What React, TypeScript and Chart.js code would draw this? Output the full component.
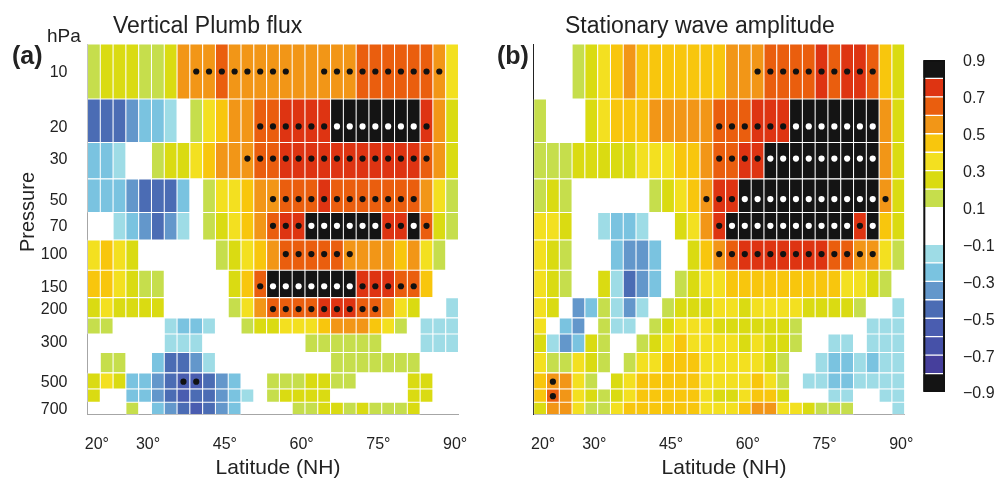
import { useEffect, useRef } from 'react';
import { Chart, registerables } from 'chart.js';

Chart.register(...registerables);

const FONT = '"Liberation Sans", Arial, Helvetica, sans-serif';
const TEXT = '#222222';

// ---- axes / categories ----
const LATITUDES = [20, 22.5, 25, 27.5, 30, 32.5, 35, 37.5, 40, 42.5, 45, 47.5, 50, 52.5, 55, 57.5, 60, 62.5, 65, 67.5, 70, 72.5, 75, 77.5, 80, 82.5, 85, 87.5, 90];
const PRESSURE_LEVELS = [10, 20, 30, 50, 70, 100, 150, 200, 250, 300, 400, 500, 600, 700];
const PRESSURE_TICKS = [10, 20, 30, 50, 70, 100, 150, 200, 300, 500, 700];
const LATITUDE_TICKS = [20, 30, 45, 60, 75, 90];
const COLORBAR_TICKS = [0.9, 0.7, 0.5, 0.3, 0.1, -0.1, -0.3, -0.5, -0.7, -0.9];

// ---- colour classes (bounds and fills) ----
const COLOR_BOUNDS = [-0.9, -0.8, -0.7, -0.6, -0.5, -0.4, -0.3, -0.2, -0.1, 0.1, 0.2, 0.3, 0.4, 0.5, 0.6, 0.7, 0.8, 0.9];
const COLOR_FILLS = ['#141414', '#463f9c', '#4651a8', '#4a5db0', '#4b6cb4', '#6397cb', '#7ac3e0', '#9edce6', '#ffffff', '#c6de4c', '#dadb12', '#f3e020', '#f8c60d', '#f29617', '#ea5e0e', '#de3412', '#141414'];

// ---- panel (a): vertical Plumb flux, one row per pressure level (10 ... 700 hPa) ----
const FLUX = [
  [0.15, 0.25, 0.25, 0.25, 0.15, 0.15, 0.25, 0.55, 0.55, 0.55, 0.65, 0.55, 0.55, 0.55, 0.55, 0.55, 0.55, 0.55, 0.55, 0.55, 0.55, 0.65, 0.65, 0.65, 0.65, 0.65, 0.65, 0.55, 0.35],
  [-0.45, -0.45, -0.45, -0.35, -0.25, -0.25, -0.15, 0, 0.15, 0.35, 0.45, 0.55, 0.55, 0.65, 0.65, 0.75, 0.75, 0.75, 0.75, 0.85, 0.85, 0.85, 0.85, 0.85, 0.85, 0.85, 0.75, 0.55, 0.25],
  [-0.25, -0.25, -0.15, 0, 0, 0.15, 0.25, 0.25, 0.35, 0.45, 0.55, 0.55, 0.55, 0.65, 0.65, 0.75, 0.75, 0.75, 0.75, 0.75, 0.75, 0.75, 0.75, 0.75, 0.75, 0.75, 0.65, 0.55, 0.25],
  [-0.25, -0.25, -0.25, -0.35, -0.45, -0.45, -0.45, -0.25, 0, 0.15, 0.35, 0.35, 0.45, 0.55, 0.55, 0.65, 0.65, 0.65, 0.75, 0.65, 0.65, 0.65, 0.65, 0.65, 0.65, 0.65, 0.55, 0.35, 0.15],
  [0, 0, -0.15, -0.25, -0.35, -0.45, -0.35, -0.15, 0, 0.15, 0.25, 0.35, 0.45, 0.55, 0.65, 0.75, 0.75, 0.85, 0.85, 0.85, 0.85, 0.85, 0.85, 0.75, 0.75, 0.85, 0.65, 0.25, 0.15],
  [0.35, 0.45, 0.35, 0.25, 0, 0, 0, 0, 0, 0, 0.15, 0.25, 0.35, 0.45, 0.55, 0.65, 0.65, 0.65, 0.65, 0.65, 0.55, 0.55, 0.55, 0.55, 0.45, 0.55, 0.35, 0.15, 0],
  [0.45, 0.45, 0.35, 0.25, 0.15, 0.15, 0, 0, 0, 0, 0, 0.25, 0.45, 0.65, 0.85, 0.85, 0.85, 0.85, 0.85, 0.85, 0.85, 0.75, 0.75, 0.75, 0.65, 0.65, 0.45, 0, 0],
  [0.25, 0.35, 0.25, 0.25, 0.25, 0.25, 0, 0, 0, 0, 0, 0.15, 0.35, 0.55, 0.65, 0.65, 0.65, 0.65, 0.75, 0.75, 0.75, 0.65, 0.65, 0.55, 0.35, 0.25, 0, 0, -0.15],
  [0.15, 0.15, 0, 0, 0, 0, -0.15, -0.25, -0.25, -0.15, 0, 0, 0.15, 0.25, 0.25, 0.35, 0.35, 0.35, 0.45, 0.55, 0.55, 0.55, 0.45, 0.35, 0.15, 0, -0.15, -0.15, -0.15],
  [0, 0, 0, 0, 0, 0, -0.15, -0.15, -0.15, 0, 0, 0, 0, 0, 0, 0, 0, 0.15, 0.15, 0.15, 0.15, 0.15, 0.15, 0, 0, 0, -0.15, -0.15, -0.15],
  [0, 0.15, 0.15, 0, 0, -0.25, -0.45, -0.45, -0.35, -0.15, 0, 0, 0, 0, 0, 0, 0, 0, 0, 0.15, 0.15, 0.15, 0.15, 0.15, 0.15, 0.15, 0, 0, 0],
  [0.25, 0.35, 0.25, -0.25, -0.25, -0.35, -0.45, -0.55, -0.55, -0.45, -0.35, -0.25, 0, 0, 0.15, 0.15, 0.15, 0.25, 0.25, 0.15, 0.15, 0, 0, 0, 0, 0.25, 0.25, 0, 0],
  [0.25, 0, 0, -0.25, -0.25, -0.35, -0.45, -0.55, -0.45, -0.45, -0.35, -0.25, -0.15, 0, 0.15, 0.25, 0.25, 0.25, 0.25, 0, 0, 0, 0, 0, 0, 0.25, 0.25, 0, 0],
  [0, 0, 0, 0.15, 0, -0.25, -0.35, -0.45, -0.55, -0.45, -0.35, -0.25, 0, 0, 0, 0, 0.15, 0.15, 0.25, 0.25, 0.15, 0.25, 0.15, 0.15, 0.15, 0.25, 0, 0, 0],
];
// significant cells (column indices) per pressure level
const FLUX_SIG = [
  [8, 9, 10, 11, 12, 13, 14, 15, 18, 19, 20, 21, 22, 23, 24, 25, 26, 27],
  [13, 14, 15, 16, 17, 18, 19, 20, 21, 22, 23, 24, 25, 26],
  [12, 13, 14, 15, 16, 17, 18, 19, 20, 21, 22, 23, 24, 25, 26],
  [14, 15, 16, 17, 18, 19, 20, 21, 22, 23, 24, 25],
  [14, 15, 16, 17, 18, 19, 20, 21, 22, 23, 24, 25, 26],
  [15, 16, 17, 18, 19, 20],
  [13, 14, 15, 16, 17, 18, 19, 20, 21, 22, 23, 24, 25],
  [14, 15, 16, 17, 18, 19, 20, 21, 22],
  [], [], [],
  [7, 8],
  [], [],
];

// ---- panel (b): stationary wave amplitude ----
const AMPLITUDE = [
  [0, 0, 0, 0.15, 0.25, 0.35, 0.45, 0.55, 0.45, 0.45, 0.45, 0.45, 0.45, 0.45, 0.45, 0.55, 0.55, 0.55, 0.65, 0.65, 0.65, 0.65, 0.75, 0.65, 0.75, 0.75, 0.65, 0.45, 0.25],
  [0.15, 0, 0, 0, 0.25, 0.35, 0.45, 0.45, 0.45, 0.55, 0.55, 0.55, 0.55, 0.55, 0.65, 0.65, 0.65, 0.75, 0.75, 0.75, 0.85, 0.85, 0.85, 0.85, 0.85, 0.85, 0.85, 0.55, 0.25],
  [0.15, 0.15, 0.15, 0.25, 0.25, 0.25, 0.25, 0.25, 0.35, 0.35, 0.35, 0.45, 0.45, 0.55, 0.65, 0.65, 0.75, 0.75, 0.85, 0.85, 0.85, 0.85, 0.85, 0.85, 0.85, 0.85, 0.85, 0.55, 0.25],
  [0.15, 0.25, 0.15, 0, 0, 0, 0, 0, 0, 0.15, 0.25, 0.35, 0.45, 0.55, 0.75, 0.75, 0.85, 0.85, 0.85, 0.85, 0.85, 0.85, 0.85, 0.85, 0.85, 0.85, 0.85, 0.55, 0.25],
  [0.35, 0.35, 0.25, 0, 0, -0.15, -0.25, -0.25, -0.15, 0, 0, 0.25, 0.35, 0.55, 0.75, 0.85, 0.85, 0.85, 0.85, 0.85, 0.85, 0.85, 0.85, 0.85, 0.85, 0.75, 0.85, 0.45, 0.25],
  [0.35, 0.25, 0.15, 0, 0, 0, -0.25, -0.35, -0.35, -0.25, 0, 0, 0.25, 0.45, 0.55, 0.65, 0.75, 0.75, 0.75, 0.75, 0.75, 0.75, 0.75, 0.65, 0.65, 0.55, 0.55, 0.35, 0.15],
  [0.35, 0.25, 0.15, 0, 0, 0.25, -0.15, -0.45, -0.35, -0.25, 0, 0.15, 0.25, 0.35, 0.35, 0.45, 0.45, 0.45, 0.45, 0.45, 0.45, 0.45, 0.45, 0.45, 0.35, 0.35, 0.25, 0.15, 0],
  [0.35, 0.25, 0, -0.35, -0.25, 0.15, -0.15, -0.35, -0.15, 0, 0.15, 0.25, 0.25, 0.25, 0.35, 0.35, 0.25, 0.35, 0.35, 0.35, 0.35, 0.25, 0.25, 0.25, 0.25, 0.15, 0, 0, -0.15],
  [0.35, 0, -0.25, -0.35, 0, 0.15, -0.15, -0.15, 0, 0.15, 0.25, 0.35, 0.35, 0.35, 0.25, 0.25, 0.25, 0.25, 0.25, 0.25, 0.15, 0, 0, 0, 0, 0, -0.15, -0.15, -0.15],
  [0.25, -0.15, -0.35, -0.25, 0.25, 0.15, 0, 0, 0.15, 0.25, 0.35, 0.45, 0.35, 0.35, 0.35, 0.35, 0.25, 0.35, 0.25, 0.25, 0.15, 0, 0, -0.15, -0.15, 0, -0.15, -0.15, -0.15],
  [0.35, 0.15, 0.15, 0.35, 0.25, 0.15, 0, 0.15, 0.35, 0.35, 0.45, 0.45, 0.45, 0.35, 0.35, 0.35, 0.35, 0.35, 0.25, 0.15, 0, 0, -0.15, -0.25, -0.25, -0.15, -0.25, -0.15, -0.15],
  [0.45, 0.55, 0.55, 0.35, 0.15, 0, 0.25, 0.35, 0.45, 0.45, 0.45, 0.45, 0.45, 0.35, 0.35, 0.35, 0.35, 0.45, 0.35, 0.15, 0, -0.15, -0.15, -0.25, -0.25, -0.15, -0.15, -0.15, -0.15],
  [0.45, 0.65, 0.55, 0.35, 0.25, 0.15, 0.25, 0.35, 0.45, 0.45, 0.45, 0.45, 0.45, 0.35, 0.25, 0.25, 0.35, 0.45, 0.45, 0.25, 0, 0, 0, -0.15, -0.15, 0, 0, -0.15, -0.15],
  [0.25, 0.55, 0.55, 0.35, 0.15, 0.15, 0.35, 0.45, 0.45, 0.45, 0.45, 0.45, 0.45, 0.35, 0.35, 0.35, 0.45, 0.55, 0.55, 0.35, 0.35, 0.25, 0.15, 0.15, 0.15, 0, 0, 0, -0.15],
];
const AMPLITUDE_SIG = [
  [17, 18, 19, 20, 21, 22, 23, 24, 25, 26],
  [14, 15, 16, 17, 18, 19, 20, 21, 22, 23, 24, 25, 26],
  [14, 15, 16, 17, 18, 19, 20, 21, 22, 23, 24, 25, 26],
  [13, 14, 15, 16, 17, 18, 19, 20, 21, 22, 23, 24, 25, 26, 27],
  [14, 15, 16, 17, 18, 19, 20, 21, 22, 23, 24, 25, 26],
  [14, 15, 16, 17, 18, 19, 20, 21, 22, 23, 24, 25, 26],
  [], [], [], [], [],
  [1],
  [1],
  [],
];

// cell edges in pressure: geometric mid-points between levels
function levelEdges(levels: number[]): number[] {
  const n = levels.length;
  const e = [levels[0] / Math.sqrt(levels[1] / levels[0])];
  for (let i = 0; i < n - 1; i++) e.push(Math.sqrt(levels[i] * levels[i + 1]));
  e.push(levels[n - 1] * Math.sqrt(levels[n - 1] / levels[n - 2]));
  return e;
}
const EDGES = levelEdges(PRESSURE_LEVELS);
const HALF_STEP = (LATITUDES[1] - LATITUDES[0]) / 2;

function colorFor(v: number): string {
  for (let i = 0; i < COLOR_FILLS.length; i++) {
    if (v >= COLOR_BOUNDS[i] && v < COLOR_BOUNDS[i + 1]) return COLOR_FILLS[i];
  }
  return v >= COLOR_BOUNDS[COLOR_BOUNDS.length - 1] ? COLOR_FILLS[COLOR_FILLS.length - 1] : COLOR_FILLS[0];
}

const W = 1000;
const H = 478;
const PLOT_TOP = 44;
const PLOT_BOTTOM = 414.5;

function makePanel(canvas: HTMLCanvasElement, grid: number[][], sig: number[][], o: { left: number; right: number; showY: boolean; yBorder: string }) {
  const cells: any[] = [];
  grid.forEach((row, i) => row.forEach((v, j) => {
    if (v !== 0) cells.push({ x: LATITUDES[j], y: [EDGES[i], EDGES[i + 1]], v });
  }));
  const dots: any[] = [];
  sig.forEach((cols, i) => cols.forEach((j) => {
    dots.push({ x: LATITUDES[j], y: PRESSURE_LEVELS[i], light: grid[i][j] >= 0.8 });
  }));
  return new Chart(canvas, {
    type: 'bar',
    data: {
      datasets: [
        {
          type: 'scatter',
          data: dots,
          order: 0,
          pointRadius: 3.1,
          pointHoverRadius: 3.1,
          pointBorderWidth: 0,
          pointBackgroundColor: (c: any) => (c.raw && c.raw.light ? '#ffffff' : '#111111'),
        } as any,
        {
          type: 'bar',
          data: cells,
          order: 1,
          backgroundColor: (c: any) => colorFor(c.raw ? c.raw.v : 0),
          borderColor: '#ffffff',
          borderWidth: 0.85,
          borderSkipped: false,
          categoryPercentage: 1,
          barPercentage: 1,
        } as any,
      ],
    },
    options: {
      responsive: false,
      animation: false,
      devicePixelRatio: 1,
      events: [],
      layout: { padding: { left: 0, top: PLOT_TOP, right: W - o.right, bottom: 0 } },
      plugins: { legend: { display: false }, tooltip: { enabled: false }, title: { display: false } },
      scales: {
        x: {
          type: 'linear',
          min: LATITUDES[0] - HALF_STEP,
          max: LATITUDES[LATITUDES.length - 1] + HALF_STEP,
          bounds: 'data',
          offset: false,
          grid: { display: false },
          border: { display: true, color: '#a6a6a6', width: 1 },
          afterBuildTicks: (s: any) => { s.ticks = LATITUDE_TICKS.map((v) => ({ value: v })); },
          afterFit: (s: any) => { s.height = H - PLOT_BOTTOM; },
          ticks: {
            autoSkip: false,
            maxRotation: 0,
            padding: 12,
            labelOffset: 3,
            color: TEXT,
            font: { size: 16, family: FONT },
            callback: (v: any) => `${v}°`,
          },
        },
        y: {
          type: 'logarithmic',
          reverse: true,
          min: EDGES[0],
          max: EDGES[EDGES.length - 1],
          bounds: 'data',
          grid: { display: false },
          border: { display: true, color: o.yBorder, width: 1 },
          afterBuildTicks: (s: any) => { s.ticks = PRESSURE_TICKS.map((v) => ({ value: v })); },
          afterFit: (s: any) => { s.width = o.left; },
          ticks: {
            display: o.showY,
            autoSkip: false,
            padding: 12,
            labelOffset: 1,
            color: TEXT,
            font: { size: 16, family: FONT },
            callback: (v: any) => String(v),
          },
        },
      },
    } as any,
  });
}

function makeColorbar(canvas: HTMLCanvasElement) {
  const segments = COLOR_FILLS.map((fill, i) => ({
    type: 'bar',
    data: [[COLOR_BOUNDS[i], COLOR_BOUNDS[i + 1]]],
    backgroundColor: fill,
    borderColor: '#ffffff',
    borderWidth: { top: 1, bottom: 1, left: 0, right: 0 },
    borderSkipped: false,
    grouped: false,
    categoryPercentage: 1,
    barPercentage: 1,
    order: 1,
  }));
  const outline = {
    type: 'bar',
    data: [[COLOR_BOUNDS[0], COLOR_BOUNDS[COLOR_BOUNDS.length - 1]]],
    backgroundColor: 'rgba(0,0,0,0)',
    borderColor: '#111111',
    borderWidth: 1.7,
    borderSkipped: false,
    grouped: false,
    categoryPercentage: 1,
    barPercentage: 1,
    order: 0,
  };
  return new Chart(canvas, {
    type: 'bar',
    data: { labels: ['colorbar'], datasets: [outline, ...segments] as any },
    options: {
      responsive: false,
      animation: false,
      devicePixelRatio: 1,
      events: [],
      layout: { padding: { left: 923.3, top: 60, right: 0, bottom: H - 392 } },
      plugins: { legend: { display: false }, tooltip: { enabled: false } },
      scales: {
        x: { type: 'category', display: false, offset: true },
        y: {
          type: 'linear',
          position: 'right',
          min: -0.9,
          max: 0.9,
          bounds: 'data',
          grid: { display: false },
          border: { display: false },
          afterBuildTicks: (s: any) => { s.ticks = COLORBAR_TICKS.map((v) => ({ value: v })); },
          afterFit: (s: any) => { s.width = W - 945; },
          ticks: {
            autoSkip: false,
            padding: 10,
            labelOffset: 2,
            color: TEXT,
            font: { size: 16, family: FONT },
            callback: (v: any) => (v < 0 ? `\u2212${Math.abs(v).toFixed(1)}` : Number(v).toFixed(1)),
          },
        },
      },
    } as any,
  });
}

const canvasStyle: any = { position: 'absolute', left: 0, top: 0, width: W, height: H };
const textBase: any = { position: 'absolute', fontFamily: FONT, color: TEXT, lineHeight: 1, whiteSpace: 'nowrap' };

export default function App() {
  const aRef = useRef<HTMLCanvasElement>(null);
  const bRef = useRef<HTMLCanvasElement>(null);
  const cRef = useRef<HTMLCanvasElement>(null);

  useEffect(() => {
    Chart.defaults.font.family = FONT;
    const charts = [
      makePanel(aRef.current!, FLUX, FLUX_SIG, { left: 87.5, right: 458.5, showY: true, yBorder: '#a6a6a6' }),
      makePanel(bRef.current!, AMPLITUDE, AMPLITUDE_SIG, { left: 533.7, right: 904.7, showY: false, yBorder: '#222222' }),
      makeColorbar(cRef.current!),
    ];
    return () => charts.forEach((c) => c.destroy());
  }, []);

  return (
    <div style={{ position: 'fixed', left: 0, top: 0, width: W, height: H, background: '#ffffff', overflow: 'hidden' }}>
      <canvas ref={aRef} width={W} height={H} style={canvasStyle} />
      <canvas ref={bRef} width={W} height={H} style={canvasStyle} />
      <canvas ref={cRef} width={W} height={H} style={canvasStyle} />
      <div style={{ ...textBase, left: 113, top: 14, fontSize: 23 }}>Vertical Plumb flux</div>
      <div style={{ ...textBase, left: 565, top: 14, fontSize: 23 }}>Stationary wave amplitude</div>
      <div style={{ ...textBase, left: 12, top: 43, fontSize: 25, fontWeight: 'bold' }}>(a)</div>
      <div style={{ ...textBase, left: 497, top: 43, fontSize: 25, fontWeight: 'bold' }}>(b)</div>
      <div style={{ ...textBase, left: 47, top: 26, fontSize: 19 }}>hPa</div>
      <div style={{ ...textBase, left: 27, top: 212, fontSize: 20, transform: 'translate(-50%, -50%) rotate(-90deg)' }}>Pressure</div>
      <div style={{ ...textBase, left: 278, top: 456, fontSize: 21, transform: 'translateX(-50%)' }}>Latitude (NH)</div>
      <div style={{ ...textBase, left: 724, top: 456, fontSize: 21, transform: 'translateX(-50%)' }}>Latitude (NH)</div>
    </div>
  );
}
